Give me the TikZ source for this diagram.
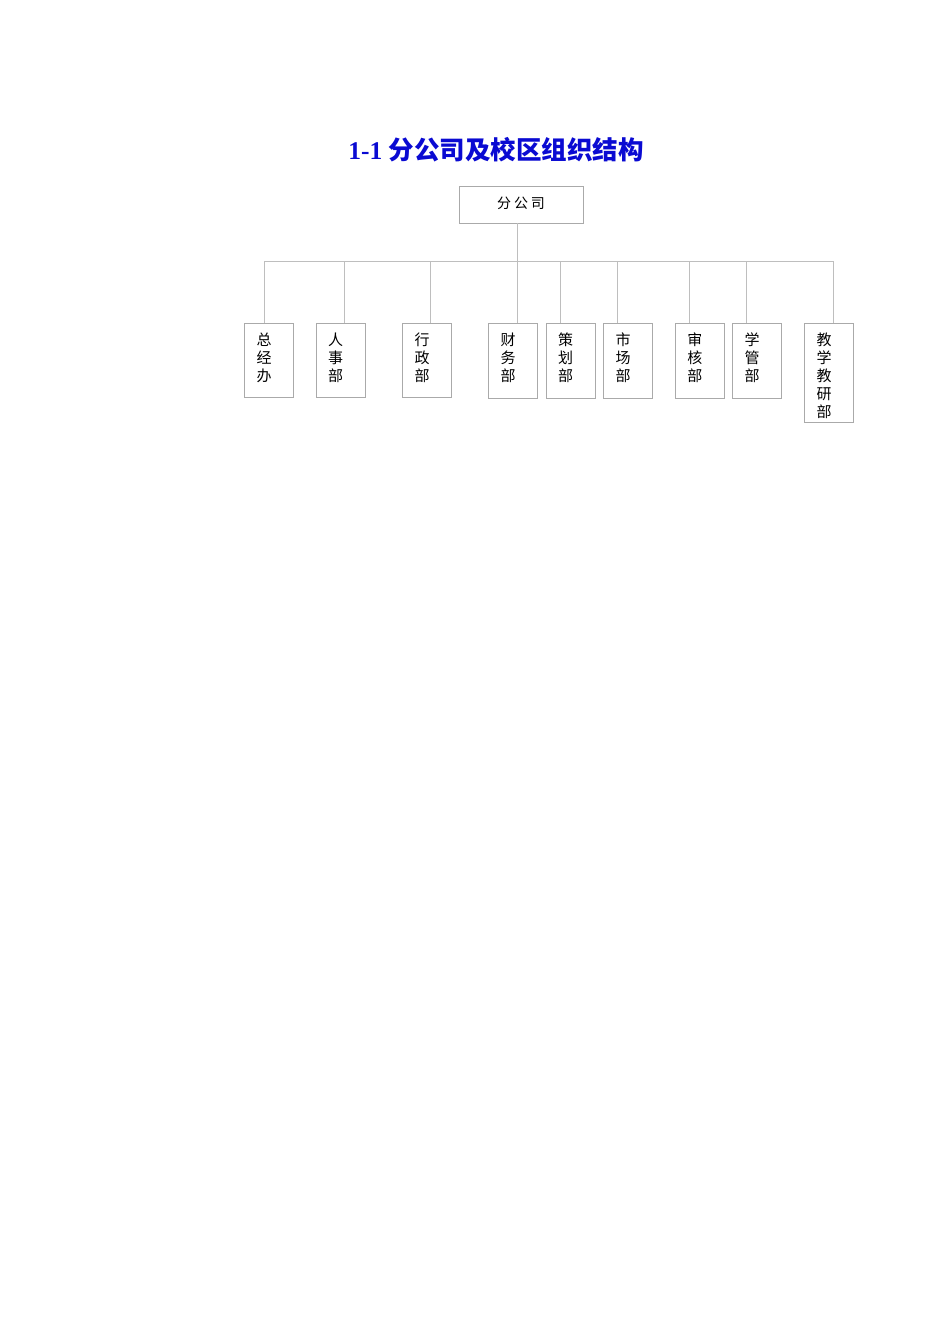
\documentclass[tikz,border=0pt]{standalone}
\usepackage{fontspec}
\setmainfont{Liberation Serif}
\newfontfamily\cjk{Noto Sans CJK SC}
\usepackage{tikz}
\definecolor{titleblue}{RGB}{10,10,210}
\definecolor{linegray}{RGB}{190,190,190}
\definecolor{boxgray}{RGB}{170,170,170}
\newcommand\deptcol[2]{\parbox[c][#1pt][t]{25pt}{\vspace*{9.5pt}#2}}
\tikzset{
  dept/.style={draw=boxgray,line width=0.8pt,anchor=north west,
    inner xsep=12pt,inner ysep=0pt,
    font=\cjk\fontsize{15}{18}\selectfont},
  link/.style={draw=linegray,line width=0.8pt}
}
\begin{document}
\begin{tikzpicture}[x=1pt,y=-1pt]
\useasboundingbox (0,0) rectangle (950,1344);

\node[font=\bfseries\fontsize{25.5}{30}\selectfont,text=titleblue] (title) at (496,150)
   {1-1 {\cjk\bfseries 分公司及校区组织结构}};
\node[draw=boxgray,line width=0.8pt,minimum width=124pt,minimum height=37pt,
   font=\cjk\fontsize{14}{16}\selectfont] (top) at (521,204.5)
   {\raisebox{3.5pt}{分\hspace{3pt}公\hspace{3pt}司}};

   \foreach \x/\lx/\h/\i [count=\n] in
        {244.3/264.3/74/总\\经\\办, 315.7/344.3/74/人\\事\\部, 402.3/430.3/74/行\\政\\部,
         488.3/517.3/75/财\\务\\部, 545.7/560.7/75/策\\划\\部, 603.3/617.3/75/市\\场\\部,
         675/689.3/75/审\\核\\部, 732.3/746.3/75/学\\管\\部, 804.3/833.3/99/教\\学\\教\\研\\部}
   {
      \node[dept] (N\n) at (\x,323) {\deptcol{\h}{\i}};
      \coordinate (B\n) at (\lx,261);
      \draw[link] (B\n) -- (B\n |- N\n.north);
   }
\draw[link] (B1) -- (B9);
\draw[link] (top.south -| B4) -- (B4);
\end{tikzpicture}
\end{document}
